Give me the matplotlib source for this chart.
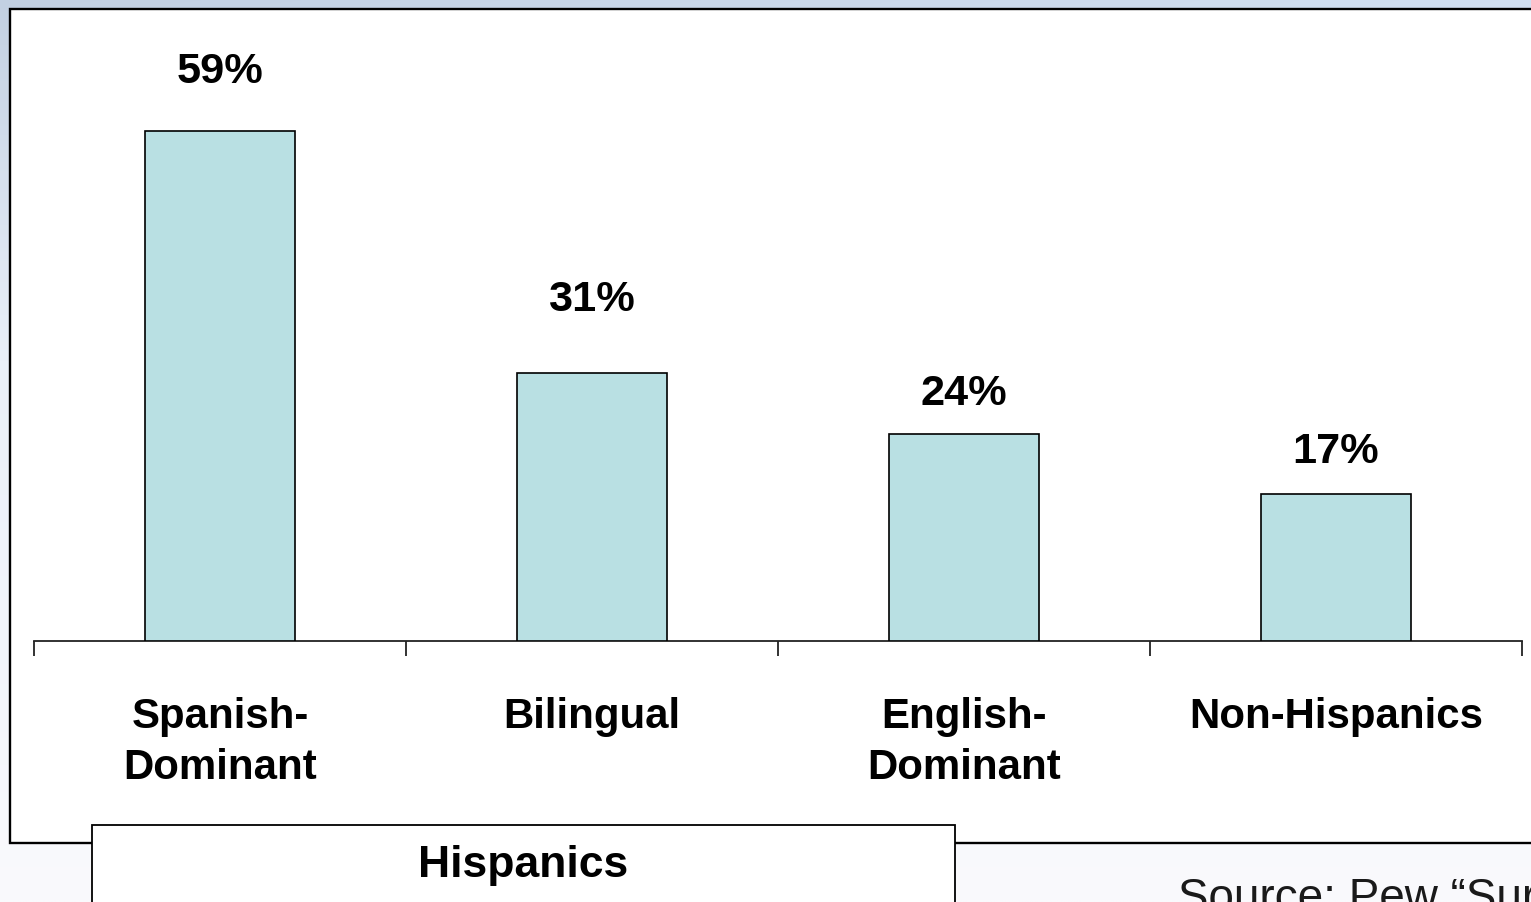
import numpy as np
import matplotlib
matplotlib.use("Agg")
import matplotlib.pyplot as plt
from matplotlib import font_manager
from matplotlib.patches import Rectangle

# --- data -------------------------------------------------------------
categories = ["Spanish-\nDominant", "Bilingual", "English-\nDominant", "Non-Hispanics"]
values = [59, 31, 24, 17]
value_labels = ["59%", "31%", "24%", "17%"]
group_label = "Hispanics"
source_text = "Source: Pew \u201cSurvey"

# label offsets above bar tops (pixels)
label_gap_px = [49, 63, 30, 32]

# --- fonts --------------------------------------------------------------
installed = {f.name for f in font_manager.fontManager.ttflist}
narrow = next((n for n in ["Liberation Sans Narrow", "Arial Narrow"] if n in installed),
              "Liberation Sans")
regular = "Liberation Sans" if "Liberation Sans" in installed else "DejaVu Sans"
narrow_scale = 1.0 if narrow != "Liberation Sans" else 0.89

W, H = 1531, 903
DPI = 100
fig = plt.figure(figsize=(W / DPI, H / DPI), dpi=DPI)

# --- slide background: soft blue wash -------------------------------------
bg = fig.add_axes([0, 0, 1, 1], zorder=0)
bg.set_xlim(0, W)
bg.set_ylim(H, 0)
bg.axis("off")
yy = np.linspace(0, 1, 300)[:, None]
xx = np.linspace(0, 1, 400)[None, :]
top = np.array([194, 208, 226]) / 255
mid = np.array([234, 240, 249]) / 255
bot = np.array([250, 250, 253]) / 255
t = np.clip(yy / 0.4, 0, 1)[..., None]
col = top * (1 - t) + mid * t
t2 = np.clip((yy - 0.4) / 0.6, 0, 1)[..., None]
col = col * (1 - t2) + bot * t2
col = col + (xx[..., None] * 0.06) * (1 - t)
col = np.clip(np.broadcast_to(col, (300, 400, 3)), 0, 1)
bg.imshow(col, extent=[0, W, H, 0], aspect="auto", interpolation="bilinear")

# main chart panel
bg.add_patch(Rectangle((10, 10), W + 20, 834, facecolor="white",
                       edgecolor="black", lw=1.7, zorder=2))
# group caption panel
bg.add_patch(Rectangle((92, 826), 863, 120, facecolor="white",
                       edgecolor="black", lw=1.3, zorder=3))
bg.text(523, 877, group_label, ha="center", va="baseline",
        fontsize=32, fontweight="bold", family=regular, zorder=4)
bg.text(1178, 911, source_text, ha="left", va="baseline",
        fontsize=33, family=regular, color="#1a1a1a", zorder=4, clip_on=False)

# --- bar chart ------------------------------------------------------------
px_per_unit = 8.644
ax_left, ax_right, ax_bottom, ax_top = 34, 1522, 642, 10
ax = fig.add_axes([ax_left / W, 1 - ax_bottom / H,
                   (ax_right - ax_left) / W, (ax_bottom - ax_top) / H], zorder=5)
ax.patch.set_alpha(0)
ax.set_xlim(-0.5, len(categories) - 0.5)
ax.set_ylim(0, (ax_bottom - ax_top) / px_per_unit)

x = np.arange(len(categories))
ax.bar(x, values, width=0.403, color="#b9e0e3", edgecolor="black",
       linewidth=1.2, zorder=3)

for xi, v, lab, gap in zip(x, values, value_labels, label_gap_px):
    ax.annotate(lab, xy=(xi, v), xytext=(0, gap * 72 / DPI),
                textcoords="offset points", ha="center", va="baseline",
                fontsize=35 * narrow_scale, fontweight="bold", family=narrow)

for xi, cat in zip(x, categories):
    ax.annotate(cat, xy=(xi, 0), xytext=(0, -55 * 72 / DPI),
                textcoords="offset points", ha="center", va="top",
                fontsize=34 * narrow_scale, fontweight="bold", family=narrow,
                linespacing=1.35, annotation_clip=False)

for s in ["top", "right", "left"]:
    ax.spines[s].set_visible(False)
ax.spines["bottom"].set_color("#222222")
ax.spines["bottom"].set_linewidth(1.3)
ax.set_yticks([])
ax.set_xticks(np.arange(-0.5, len(categories), 1.0))
ax.set_xticklabels([])
ax.tick_params(axis="x", direction="out", length=15 * 72 / DPI, width=1.3,
               color="#222222")

fig.savefig("out.png", dpi=DPI)
